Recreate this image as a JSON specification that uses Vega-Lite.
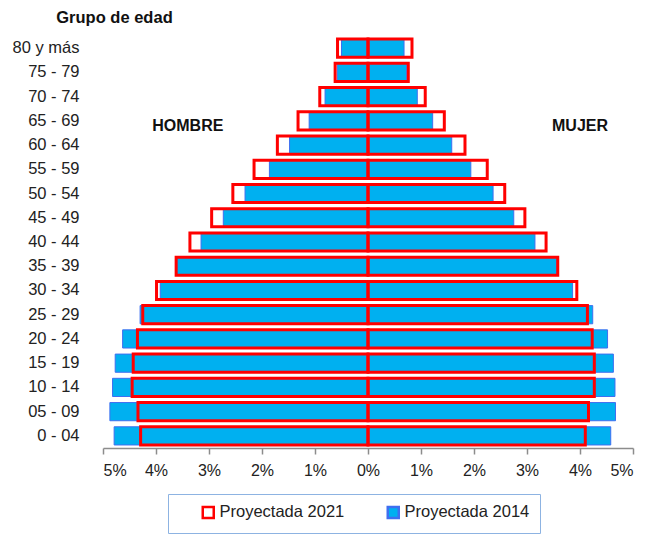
{
  "$schema": "https://vega.github.io/schema/vega-lite/v6.json",
  "autosize": {"type": "none"},
  "padding": {"left": 103, "top": 36, "right": 30, "bottom": 96},
  "width": 530,
  "height": 412,
  "background": "white",
  "config": {
    "font": "Liberation Sans",
    "view": {"stroke": null}
  },
  "datasets": {
    "pyr": [
      {"grupo": "80 y más", "serie": "Proyectada 2014", "v": -0.50},
      {"grupo": "75 - 79", "serie": "Proyectada 2014", "v": -0.58},
      {"grupo": "70 - 74", "serie": "Proyectada 2014", "v": -0.81},
      {"grupo": "65 - 69", "serie": "Proyectada 2014", "v": -1.11},
      {"grupo": "60 - 64", "serie": "Proyectada 2014", "v": -1.48},
      {"grupo": "55 - 59", "serie": "Proyectada 2014", "v": -1.86},
      {"grupo": "50 - 54", "serie": "Proyectada 2014", "v": -2.32},
      {"grupo": "45 - 49", "serie": "Proyectada 2014", "v": -2.73},
      {"grupo": "40 - 44", "serie": "Proyectada 2014", "v": -3.15},
      {"grupo": "35 - 39", "serie": "Proyectada 2014", "v": -3.61},
      {"grupo": "30 - 34", "serie": "Proyectada 2014", "v": -3.92},
      {"grupo": "25 - 29", "serie": "Proyectada 2014", "v": -4.30},
      {"grupo": "20 - 24", "serie": "Proyectada 2014", "v": -4.63},
      {"grupo": "15 - 19", "serie": "Proyectada 2014", "v": -4.77},
      {"grupo": "10 - 14", "serie": "Proyectada 2014", "v": -4.82},
      {"grupo": "05 - 09", "serie": "Proyectada 2014", "v": -4.87},
      {"grupo": "0 - 04", "serie": "Proyectada 2014", "v": -4.79},
      {"grupo": "80 y más", "serie": "Proyectada 2014", "v": 0.68},
      {"grupo": "75 - 79", "serie": "Proyectada 2014", "v": 0.73},
      {"grupo": "70 - 74", "serie": "Proyectada 2014", "v": 0.93},
      {"grupo": "65 - 69", "serie": "Proyectada 2014", "v": 1.22},
      {"grupo": "60 - 64", "serie": "Proyectada 2014", "v": 1.58},
      {"grupo": "55 - 59", "serie": "Proyectada 2014", "v": 1.94},
      {"grupo": "50 - 54", "serie": "Proyectada 2014", "v": 2.36},
      {"grupo": "45 - 49", "serie": "Proyectada 2014", "v": 2.75},
      {"grupo": "40 - 44", "serie": "Proyectada 2014", "v": 3.15},
      {"grupo": "35 - 39", "serie": "Proyectada 2014", "v": 3.56},
      {"grupo": "30 - 34", "serie": "Proyectada 2014", "v": 3.86},
      {"grupo": "25 - 29", "serie": "Proyectada 2014", "v": 4.24},
      {"grupo": "20 - 24", "serie": "Proyectada 2014", "v": 4.52},
      {"grupo": "15 - 19", "serie": "Proyectada 2014", "v": 4.63},
      {"grupo": "10 - 14", "serie": "Proyectada 2014", "v": 4.66},
      {"grupo": "05 - 09", "serie": "Proyectada 2014", "v": 4.67},
      {"grupo": "0 - 04", "serie": "Proyectada 2014", "v": 4.58},
      {"grupo": "80 y más", "serie": "Proyectada 2021", "v": -0.575},
      {"grupo": "75 - 79", "serie": "Proyectada 2021", "v": -0.62},
      {"grupo": "70 - 74", "serie": "Proyectada 2021", "v": -0.91},
      {"grupo": "65 - 69", "serie": "Proyectada 2021", "v": -1.32},
      {"grupo": "60 - 64", "serie": "Proyectada 2021", "v": -1.71},
      {"grupo": "55 - 59", "serie": "Proyectada 2021", "v": -2.15},
      {"grupo": "50 - 54", "serie": "Proyectada 2021", "v": -2.55},
      {"grupo": "45 - 49", "serie": "Proyectada 2021", "v": -2.95},
      {"grupo": "40 - 44", "serie": "Proyectada 2021", "v": -3.36},
      {"grupo": "35 - 39", "serie": "Proyectada 2021", "v": -3.62},
      {"grupo": "30 - 34", "serie": "Proyectada 2021", "v": -3.99},
      {"grupo": "25 - 29", "serie": "Proyectada 2021", "v": -4.25},
      {"grupo": "20 - 24", "serie": "Proyectada 2021", "v": -4.35},
      {"grupo": "15 - 19", "serie": "Proyectada 2021", "v": -4.43},
      {"grupo": "10 - 14", "serie": "Proyectada 2021", "v": -4.45},
      {"grupo": "05 - 09", "serie": "Proyectada 2021", "v": -4.34},
      {"grupo": "0 - 04", "serie": "Proyectada 2021", "v": -4.29},
      {"grupo": "80 y más", "serie": "Proyectada 2021", "v": 0.83},
      {"grupo": "75 - 79", "serie": "Proyectada 2021", "v": 0.76},
      {"grupo": "70 - 74", "serie": "Proyectada 2021", "v": 1.08},
      {"grupo": "65 - 69", "serie": "Proyectada 2021", "v": 1.44},
      {"grupo": "60 - 64", "serie": "Proyectada 2021", "v": 1.83},
      {"grupo": "55 - 59", "serie": "Proyectada 2021", "v": 2.25},
      {"grupo": "50 - 54", "serie": "Proyectada 2021", "v": 2.58},
      {"grupo": "45 - 49", "serie": "Proyectada 2021", "v": 2.96},
      {"grupo": "40 - 44", "serie": "Proyectada 2021", "v": 3.36},
      {"grupo": "35 - 39", "serie": "Proyectada 2021", "v": 3.58},
      {"grupo": "30 - 34", "serie": "Proyectada 2021", "v": 3.94},
      {"grupo": "25 - 29", "serie": "Proyectada 2021", "v": 4.14},
      {"grupo": "20 - 24", "serie": "Proyectada 2021", "v": 4.23},
      {"grupo": "15 - 19", "serie": "Proyectada 2021", "v": 4.27},
      {"grupo": "10 - 14", "serie": "Proyectada 2021", "v": 4.27},
      {"grupo": "05 - 09", "serie": "Proyectada 2021", "v": 4.16},
      {"grupo": "0 - 04", "serie": "Proyectada 2021", "v": 4.10}
    ],
    "labels": [
      {"texto": "HOMBRE", "grupo": "65 - 69", "v": -3.4},
      {"texto": "MUJER", "grupo": "65 - 69", "v": 4.0}
    ]
  },
  "encoding": {
    "y": {
      "field": "grupo",
      "type": "nominal",
      "sort": ["80 y más", "75 - 79", "70 - 74", "65 - 69", "60 - 64", "55 - 59", "50 - 54", "45 - 49", "40 - 44", "35 - 39", "30 - 34", "25 - 29", "20 - 24", "15 - 19", "10 - 14", "05 - 09", "0 - 04"],
      "scale": {"paddingInner": 0.25, "paddingOuter": 0.125},
      "axis": {
        "title": "Grupo de edad",
        "titleAngle": 0,
        "titleX": 11,
        "titleY": -19,
        "titleAlign": "center",
        "titleBaseline": "middle",
        "titleFontSize": 16.5,
        "titleFontWeight": "bold",
        "titleColor": "#111",
        "domain": false,
        "ticks": false,
        "labelPadding": 24,
        "labelFontSize": 16.5,
        "labelColor": "#222",
        "labelFontWeight": "normal"
      }
    }
  },
  "layer": [
    {
      "data": {"name": "pyr"},
      "transform": [{"filter": "datum.serie == 'Proyectada 2014'"}],
      "mark": {"type": "bar", "strokeWidth": 1},
      "encoding": {
        "x": {
          "field": "v",
          "type": "quantitative",
          "stack": null,
          "scale": {"domain": [-5, 5], "nice": false},
          "axis": {
            "title": null,
            "values": [-5, -4, -3, -2, -1, 0, 1, 2, 3, 4, 5],
            "labelExpr": "abs(datum.value) + '%'",
            "grid": false,
            "domainColor": "#8c8c8c",
            "domainWidth": 1.5,
            "tickColor": "#8c8c8c",
            "tickWidth": 1.5,
            "tickSize": 6,
            "labelPadding": 8,
            "labelFontSize": 16,
            "labelColor": "#222"
          }
        },
        "fill": {
          "field": "serie",
          "type": "nominal",
          "scale": {"domain": ["Proyectada 2021", "Proyectada 2014"], "range": ["#ffffff", "#00b0f0"]},
          "legend": {
            "orient": "none",
            "legendX": 65,
            "legendY": 458,
            "direction": "horizontal",
            "title": null,
            "strokeColor": "#8db3e2",
            "padding": 10,
            "columnPadding": 18,
            "symbolOffset": 22,
            "labelFontSize": 16.5,
            "labelColor": "#222",
            "labelOffset": 3,
            "symbolType": "square",
            "symbolSize": 121,
            "symbolStrokeWidth": 2.5
          }
        },
        "stroke": {
          "field": "serie",
          "type": "nominal",
          "scale": {"domain": ["Proyectada 2021", "Proyectada 2014"], "range": ["#ff0000", "#3f6ff0"]}
        },
        "fillOpacity": {
          "field": "serie",
          "type": "nominal",
          "scale": {"domain": ["Proyectada 2021", "Proyectada 2014"], "range": [0, 1]}
        }
      }
    },
    {
      "data": {"name": "pyr"},
      "transform": [{"filter": "datum.serie == 'Proyectada 2021'"}],
      "mark": {"type": "bar", "strokeWidth": 3},
      "encoding": {
        "x": {"field": "v", "type": "quantitative", "stack": null},
        "fill": {"field": "serie", "type": "nominal"},
        "stroke": {"field": "serie", "type": "nominal"},
        "fillOpacity": {"field": "serie", "type": "nominal"}
      }
    },
    {
      "mark": {"type": "rule", "color": "#8c8c8c", "strokeWidth": 1.5},
      "encoding": {"x": {"datum": 0, "type": "quantitative"}, "y": null}
    },
    {
      "data": {"name": "labels"},
      "mark": {"type": "text", "fontSize": 16, "fontWeight": "bold", "color": "#111", "dy": 5},
      "encoding": {
        "x": {"field": "v", "type": "quantitative"},
        "text": {"field": "texto"}
      }
    }
  ]
}
